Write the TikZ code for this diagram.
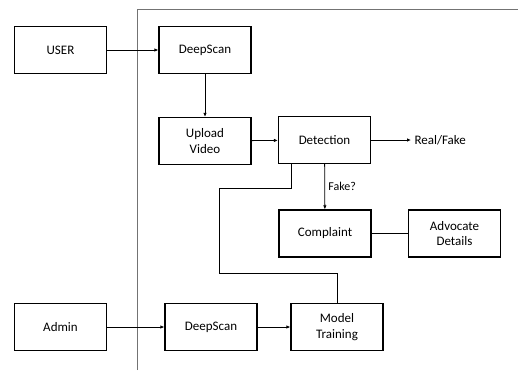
\documentclass[tikz,border=0pt]{standalone}
\usepackage{fontspec}
\setmainfont{Carlito}
\usepackage{tikz}
\usetikzlibrary{arrows.meta, calc, positioning}
\tikzset{>={Latex[length=4pt,width=3.5pt]}}

\begin{document}
\begin{tikzpicture}[x=1pt, y=-1pt,
  every node/.style={font=\fontsize{13}{15.5}\selectfont},
  block/.style={rectangle, draw=black, line width=1.3pt, minimum width=92pt, minimum height=47pt, align=center, inner sep=2pt},
  flow/.style={->, line width=0.8pt},
  link/.style={line width=0.8pt},
  frame/.style={draw=black!55, line width=0.8pt}
]
\useasboundingbox (0,0) rectangle (518,370);

% System frame
\draw[frame] (137,370) -- (137,9) -- (518,9);

% Blocks
\node[block] (user) at (60.5,50) {USER};
\node[block] (scan) at (205,50) {DeepScan};
\node[block] (upload) at (205,141) {Upload\\Video};
\node[block] (detect) at (324.5,140) {Detection};
\node[anchor=west] (result) at (411,140) {Real/Fake};
\node[block] (complaint) at (325,233.5) {Complaint};
\node[block] (advocate) at (454.5,233.5) {Advocate\\Details};
\node[block] (admin) at (60.5,327) {Admin};
\node[block] (scanb) at (211,327) {DeepScan};
\node[block] (model) at (337,327) {Model\\Training};

% Bends of the feedback line
\coordinate (k1) at (219,188);
\coordinate (k2) at (219,273);

% Connectors
\draw[flow] (user) -- (scan);
\draw[flow] (scan) -- (upload);
\draw[flow] (upload) -- (detect);
\draw[flow] (detect) -- (result);
\draw[flow] (detect) -- node[right, font=\fontsize{12}{14}\selectfont] {Fake?} (complaint);
\draw[link] (complaint) -- (advocate);
\draw[flow] (admin) -- (scanb);
\draw[flow] (scanb) -- (model);
\draw[link] ([xshift=-33.5pt]detect.south) |- (k1) -- (k2) -| (model.north);

\end{tikzpicture}
\end{document}
